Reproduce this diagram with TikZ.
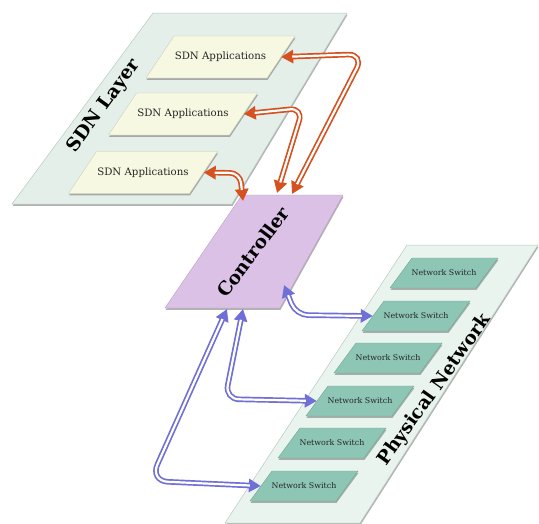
\documentclass[tikz,border=0pt]{standalone}
\usepackage{fontspec}
\setmainfont{DejaVu Serif}
\usetikzlibrary{shadows,arrows.meta}
\definecolor{layerfill}{HTML}{E4EFEA}
\definecolor{layerline}{HTML}{B9C9C1}
\definecolor{physfill}{HTML}{EAF4EE}
\definecolor{appfill}{HTML}{F7F8E2}
\definecolor{appline}{HTML}{C9CDB2}
\definecolor{swfill}{HTML}{8EC6B6}
\definecolor{swline}{HTML}{6FA595}
\definecolor{ctrlfill}{HTML}{DCC1E6}
\definecolor{ctrlline}{HTML}{B9A0C4}
\definecolor{arrorange}{HTML}{D5511F}
\definecolor{arrblue}{HTML}{6F6FD6}
% parallelogram: style, cx, cy, width, height, slant offset
\newcommand\mypara[6]{%
  \path[#1] ({#2-#4/2-#6/2},{#3+#5/2}) -- ({#2+#4/2-#6/2},{#3+#5/2})
    -- ({#2+#4/2+#6/2},{#3-#5/2}) -- ({#2-#4/2+#6/2},{#3-#5/2}) -- cycle;}
\tikzset{
  softshadow/.style={drop shadow={shadow xshift=0.6pt, shadow yshift=-1.8pt, fill=black!55, opacity=0.55}},
  plane/.style={line width=0.5pt, softshadow},
  appshape/.style={fill=appfill, draw=appline, line width=0.4pt, softshadow},
  swshape/.style={fill=swfill, draw=swline, line width=0.4pt, softshadow},
  apptext/.style={minimum width=121pt, minimum height=42pt, inner sep=0pt,
    font=\fontsize{10.2}{12}\selectfont, text=black!85},
  swtext/.style={minimum width=86pt, minimum height=30pt, inner sep=0pt,
    font=\fontsize{7.9}{9}\selectfont, text=black!85},
  bigtext/.style={font=\fontsize{18.5}{22}\selectfont\bfseries, inner sep=0pt},
  dblarrow/.style={draw=#1, line width=5.6pt,
    {Triangle[length=12pt,width=13pt]}-{Triangle[length=12pt,width=13pt]},
    postaction={draw=white, line width=2.2pt, arrows=-, shorten <=11pt, shorten >=11pt}},
  oarr/.style={dblarrow=arrorange},
  barr/.style={dblarrow=arrblue}
}
\begin{document}
\begin{tikzpicture}[x=1pt,y=-1pt]
\useasboundingbox (0,0) rectangle (539,523);
% planes
\filldraw[plane, fill=layerfill, draw=layerline] (153,13) -- (347,13) -- (232,204) -- (12,204) -- cycle;
\filldraw[plane, fill=physfill, draw=layerline] (407,245) -- (538,245) -- (360,523) -- (225,523) -- cycle;
% labels of planes
\node[bigtext, rotate=54] (sdnlabel) at (104,106) {SDN Layer};
\node[bigtext, rotate=54.5] (physlabel) at (435,390) {Physical Network};
% application boxes
\mypara{appshape}{220.5}{57}{121}{42}{28}
\mypara{appshape}{183}{114}{121}{42}{28}
\mypara{appshape}{143}{172.5}{121}{42}{28}
\node[apptext] (app1) at (220.5,57) {SDN Applications};
\node[apptext] (app2) at (183,114) {SDN Applications};
\node[apptext] (app3) at (143,172.5) {SDN Applications};
% controller
\filldraw[fill=ctrlfill, draw=ctrlline, line width=0.4pt, softshadow]
  (242,195) -- (343,195) -- (280,308) -- (165,308) -- cycle;
\node[bigtext, rotate=53] (ctrl) at (253,252) {Controller};
% switches
\foreach \n/\x/\y in {1/444/273, 2/416/316, 3/388/358, 4/360/401, 5/332/443, 6/304/486}{
  \mypara{swshape}{\x}{\y}{86}{30}{22}
  \node[swtext] (s\n) at (\x,\y) {Network Switch};
}
% controller ports
\coordinate (cA1) at (292,194);
\coordinate (cA2) at (277,193);
\coordinate (cA3) at (243,201);
\coordinate (cB1) at (284,285);
\coordinate (cB2) at (243,309);
\coordinate (cB3) at (227,309);
% orange arrows
\draw[oarr, rounded corners=16pt] (app1.east) -- (364,54) -- (cA1);
\draw[oarr, rounded corners=13pt] (app2.east) -- (303,108) -- (cA2);
\draw[oarr, rounded corners=10pt] (app3.east) -- (240,173) -- (cA3);
% blue arrows
\draw[barr, rounded corners=12pt] (cB1) -- (296,315) -- (s2.west);
\draw[barr, rounded corners=14pt] (cB2) -- (225,399) -- (s4.west);
\draw[barr, rounded corners=18pt] (cB3) -- (150,481) -- (s6.west);
\end{tikzpicture}
\end{document}
